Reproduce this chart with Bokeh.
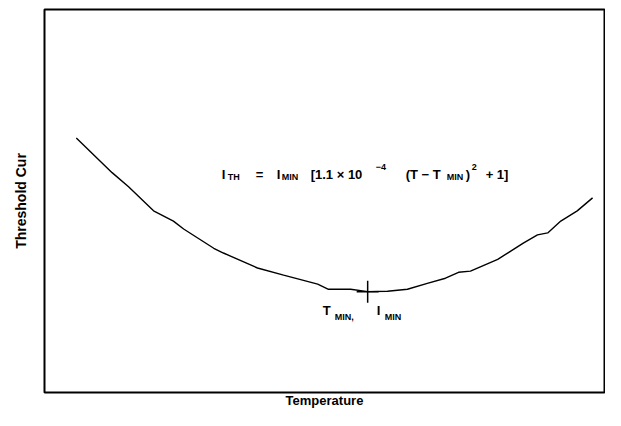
from bokeh.plotting import figure
from bokeh.models import Label, Range1d, FixedTicker
from bokeh.embed import file_html
from bokeh.resources import INLINE

# ---- data (arbitrary units) ----
temperature = [5.6, 11.9, 14.8, 19.2, 22.7, 24.5, 29.8, 31.5, 37.5, 42.1, 48.1, 50.0,
               53.9, 56.9, 60.4, 63.9, 67.4, 70.6, 72.9, 75.0, 79.8, 84.3, 86.8, 88.6,
               90.9, 93.8, 96.5]
current = [67.4, 58.6, 55.0, 48.9, 46.3, 44.3, 39.4, 38.2, 34.4, 32.6, 30.3, 29.0,
           29.0, 28.4, 28.5, 29.0, 30.5, 31.8, 33.3, 33.6, 36.6, 40.7, 42.8, 43.3,
           46.3, 48.9, 52.2]
t_min = [56.9]
i_min = [28.4]
x_label = "Temperature"
y_label = "Threshold Cur"

FONT = "Liberation Sans"
MAIN, SUB = "13px", "9px"

p = figure(width=605, height=410, output_backend="svg", toolbar_location=None,
           x_range=Range1d(0, 98.6), y_range=Range1d(2.8, 100),
           min_border_left=44, min_border_right=1, min_border_top=9, min_border_bottom=16)
p.grid.visible = False
p.outline_line_color = "black"
p.outline_line_width = 2
p.background_fill_color = "white"
p.border_fill_color = "white"

for ax in (p.xaxis, p.yaxis):
    ax.ticker = FixedTicker(ticks=[])
    ax.axis_line_color = None
    ax.major_tick_line_color = None
    ax.minor_tick_line_color = None
    ax.major_tick_out = 0
    ax.major_tick_in = 0
    ax.minor_tick_out = 0
    ax.major_label_standoff = 0
    ax.axis_label_text_font = FONT
    ax.axis_label_text_font_style = "bold"
    ax.axis_label_text_font_size = "14px"
    ax.axis_label_text_color = "black"
p.xaxis.axis_label = x_label
p.xaxis.axis_label_text_font_size = "13px"
p.xaxis.axis_label_standoff = 0
p.yaxis.axis_label = y_label
p.yaxis.axis_label_standoff = 16

p.line(temperature, current, line_color="black", line_width=1.4)
p.scatter(t_min, i_min, marker="cross", size=22, line_color="black", line_width=1.5)

# formula pieces: (text, x offset px, kind) relative to the minimum point
formula = [("I", -146, "main"), ("TH", -140, "sub"), ("=", -112, "main"),
           ("I", -91, "main"), ("MIN", -86, "sub"), ("[1.1 \u00d7 10", -57, "main"),
           ("\u22124", 8, "sup"), ("(T \u2212 T", 38, "main"), ("MIN", 79, "sub"),
           (")", 98, "main"), ("2", 104, "sup"), ("+ 1]", 118, "main")]
dy_formula = {"main": 117, "sub": 115, "sup": 125}

min_label = [("T", -45, "main"), ("MIN,", -33, "sub"), ("I", 9, "main"), ("MIN", 17, "sub")]
dy_min = {"main": -19, "sub": -25}

def add_pieces(pieces, dys):
    for txt, dx, kind in pieces:
        p.add_layout(Label(x=t_min[0], y=i_min[0], x_offset=dx, y_offset=dys[kind],
                           text=txt, text_font=FONT, text_font_style="bold",
                           text_font_size=MAIN if kind == "main" else SUB,
                           text_color="black", text_baseline="alphabetic",
                           text_align="left"))

add_pieces(formula, dy_formula)
add_pieces(min_label, dy_min)

open("out.html", "w").write(file_html(p, INLINE))
